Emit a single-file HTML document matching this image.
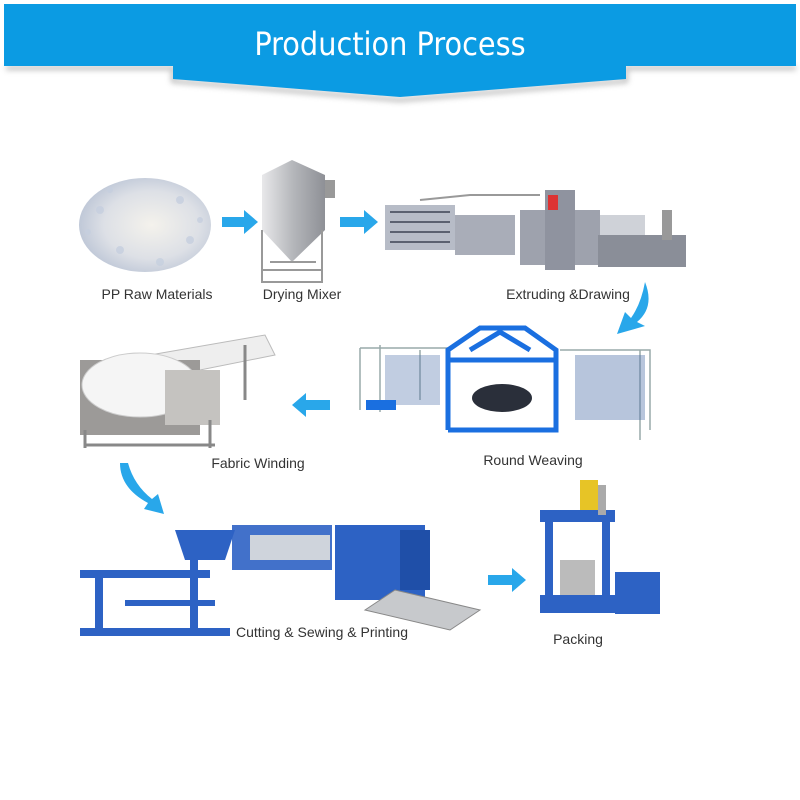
<!DOCTYPE html>
<html><head><style>
body{margin:0;background:#fff;}
svg{display:block}
text{font-family:"Liberation Sans",sans-serif;fill:#333;font-size:14px}
</style></head><body>
<svg width="800" height="800" viewBox="0 0 800 800">
<defs>
<filter id="sh" x="-5%" y="-20%" width="110%" height="160%"><feGaussianBlur stdDeviation="3"/></filter>
<radialGradient id="gr" cx="0.55" cy="0.5" r="0.6"><stop offset="0" stop-color="#f4f2ec"/><stop offset="0.6" stop-color="#dde0e6"/><stop offset="1" stop-color="#b8c2d4"/></radialGradient>
<linearGradient id="met" x1="0" x2="1"><stop offset="0" stop-color="#e8e8ea"/><stop offset="0.5" stop-color="#b4b6ba"/><stop offset="1" stop-color="#8e9096"/></linearGradient>
</defs>
<!-- banner -->
<path d="M6,68 H173 V81 L400,100 L626,81 V68 H796" fill="none" stroke="#777" stroke-width="4" opacity="0.5" filter="url(#sh)"/>
<path d="M4,4 H796 V66 H626 V79 L400,97 L173,79 V66 H4 Z" fill="#0b9be3"/>
<text x="390" y="55" text-anchor="middle" style="font-size:32px;fill:#fff;font-family:'DejaVu Sans Condensed','Liberation Sans Narrow','Liberation Sans',sans-serif">Production Process</text>

<!-- granules -->
<ellipse cx="145" cy="225" rx="66" ry="47" fill="url(#gr)"/>
<g fill="#c6cfdf" opacity="0.8">
<circle cx="100" cy="210" r="4"/><circle cx="120" cy="250" r="4"/><circle cx="180" cy="200" r="4"/><circle cx="190" cy="240" r="4"/><circle cx="110" cy="190" r="3"/><circle cx="160" cy="262" r="4"/><circle cx="200" cy="220" r="3"/><circle cx="88" cy="232" r="3"/>
</g>
<!-- arrows -->
<g fill="#29a7ea">
<path d="M222,217 h22 v-7 l14,12 l-14,12 v-7 h-22z"/>
<path d="M340,217 h24 v-7 l14,12 l-14,12 v-7 h-24z"/>
<path d="M330,400 h-24 v-7 l-14,12 l14,12 v-7 h24z"/>
<path d="M488,575 h24 v-7 l14,12 l-14,12 v-7 h-24z"/>
<path d="M645,282 q10,25 -8,40 l8,4 l-28,8 l8,-22 l6,6 q10,-14 14,-36z"/>
<path d="M120,463 q0,25 28,40 l-4,6 l20,5 l-6,-20 l-6,5 q-18,-14 -24,-36z"/>
</g>
<!-- mixer -->
<path d="M262,175 L292,160 L325,175 V230 L292,262 L262,230Z" fill="url(#met)"/>
<rect x="325" y="180" width="10" height="18" fill="#999"/>
<g stroke="#999" stroke-width="2" fill="none"><path d="M262,230 V283 M322,230 V283 M262,270 H322 M262,282 H322 M270,262 H316"/></g>
<!-- extruding line -->
<g>
<rect x="385" y="205" width="70" height="45" fill="#b7bcc7"/>
<g stroke="#5b6170" stroke-width="2"><path d="M390,212 H450 M390,222 H450 M390,232 H450 M390,242 H450"/></g>
<rect x="455" y="215" width="60" height="40" fill="#a9adb8"/>
<rect x="520" y="210" width="80" height="55" fill="#9ea2ad"/>
<rect x="545" y="190" width="30" height="80" fill="#8f939f"/>
<rect x="548" y="195" width="10" height="15" fill="#d33"/>
<rect x="600" y="215" width="45" height="30" fill="#cfd2d8"/>
<rect x="598" y="235" width="88" height="32" fill="#8a8e98"/>
<rect x="662" y="210" width="10" height="30" fill="#999"/>
<path d="M420,200 L470,195 L540,195" stroke="#999" stroke-width="2" fill="none"/>
</g>
<!-- round weaving -->
<g stroke="#9aa" stroke-width="1.5" fill="none">
<path d="M360,348 V410 M380,345 V412 M360,348 H450 M560,350 H650 V430 M640,350 V440 M420,350 V400"/>
</g>
<g fill="#4c6fa8">
<rect x="385" y="355" width="55" height="50" opacity="0.35"/>
<rect x="575" y="355" width="70" height="65" opacity="0.4"/>
</g>
<g stroke="#1a6fe0" stroke-width="5" fill="none">
<path d="M448,430 V350 L480,328 H525 L556,350 V430 H448 M448,360 H556 M470,350 L500,332 L530,350"/>
</g>
<ellipse cx="502" cy="398" rx="30" ry="14" fill="#2a2f3a"/>
<rect x="366" y="400" width="30" height="10" fill="#1a6fe0"/>
<!-- fabric winding -->
<g>
<path d="M150,355 L265,335 L275,355 L175,375Z" fill="#eee" stroke="#bbb"/>
<rect x="80" y="360" width="120" height="75" fill="#9c9a98"/>
<ellipse cx="140" cy="385" rx="58" ry="32" fill="#f5f5f5" stroke="#ccc"/>
<rect x="165" y="370" width="55" height="55" fill="#c5c3c0"/>
<g stroke="#888" stroke-width="3"><path d="M85,445 H215 M85,430 V448 M210,420 V448 M245,345 V400"/></g>
</g>
<!-- cutting sewing printing -->
<g fill="#2d62c4">
<rect x="80" y="570" width="130" height="8"/>
<rect x="80" y="628" width="150" height="8"/>
<rect x="95" y="570" width="8" height="65"/>
<rect x="190" y="555" width="8" height="80"/>
<rect x="125" y="600" width="90" height="6"/>
<path d="M175,530 H235 L225,560 H185Z"/>
<rect x="232" y="525" width="100" height="45" opacity="0.9"/>
<rect x="335" y="525" width="90" height="75"/>
<rect x="400" y="530" width="30" height="60" fill="#1f4fa8"/>
</g>
<rect x="250" y="535" width="80" height="25" fill="#cfd4dc"/>
<path d="M395,590 L480,610 L450,630 L365,610Z" fill="#c7c9cc" stroke="#888"/>
<!-- packing -->
<g>
<rect x="580" y="480" width="18" height="30" fill="#e7c426"/>
<rect x="540" y="510" width="75" height="12" fill="#2d62c4"/>
<rect x="545" y="522" width="8" height="75" fill="#2d62c4"/>
<rect x="602" y="522" width="8" height="75" fill="#2d62c4"/>
<rect x="540" y="595" width="75" height="18" fill="#2d62c4"/>
<rect x="560" y="560" width="35" height="35" fill="#bbb"/>
<rect x="615" y="572" width="45" height="42" fill="#2d62c4"/>
<rect x="598" y="485" width="8" height="30" fill="#aaa"/>
</g>
<!-- labels -->
<text x="157" y="299" text-anchor="middle">PP Raw Materials</text>
<text x="302" y="299" text-anchor="middle">Drying Mixer</text>
<text x="568" y="299" text-anchor="middle">Extruding &amp;Drawing</text>
<text x="533" y="465" text-anchor="middle">Round Weaving</text>
<text x="258" y="468" text-anchor="middle">Fabric Winding</text>
<text x="322" y="637" text-anchor="middle">Cutting &amp; Sewing &amp; Printing</text>
<text x="578" y="644" text-anchor="middle">Packing</text>
</svg>
</body></html>
